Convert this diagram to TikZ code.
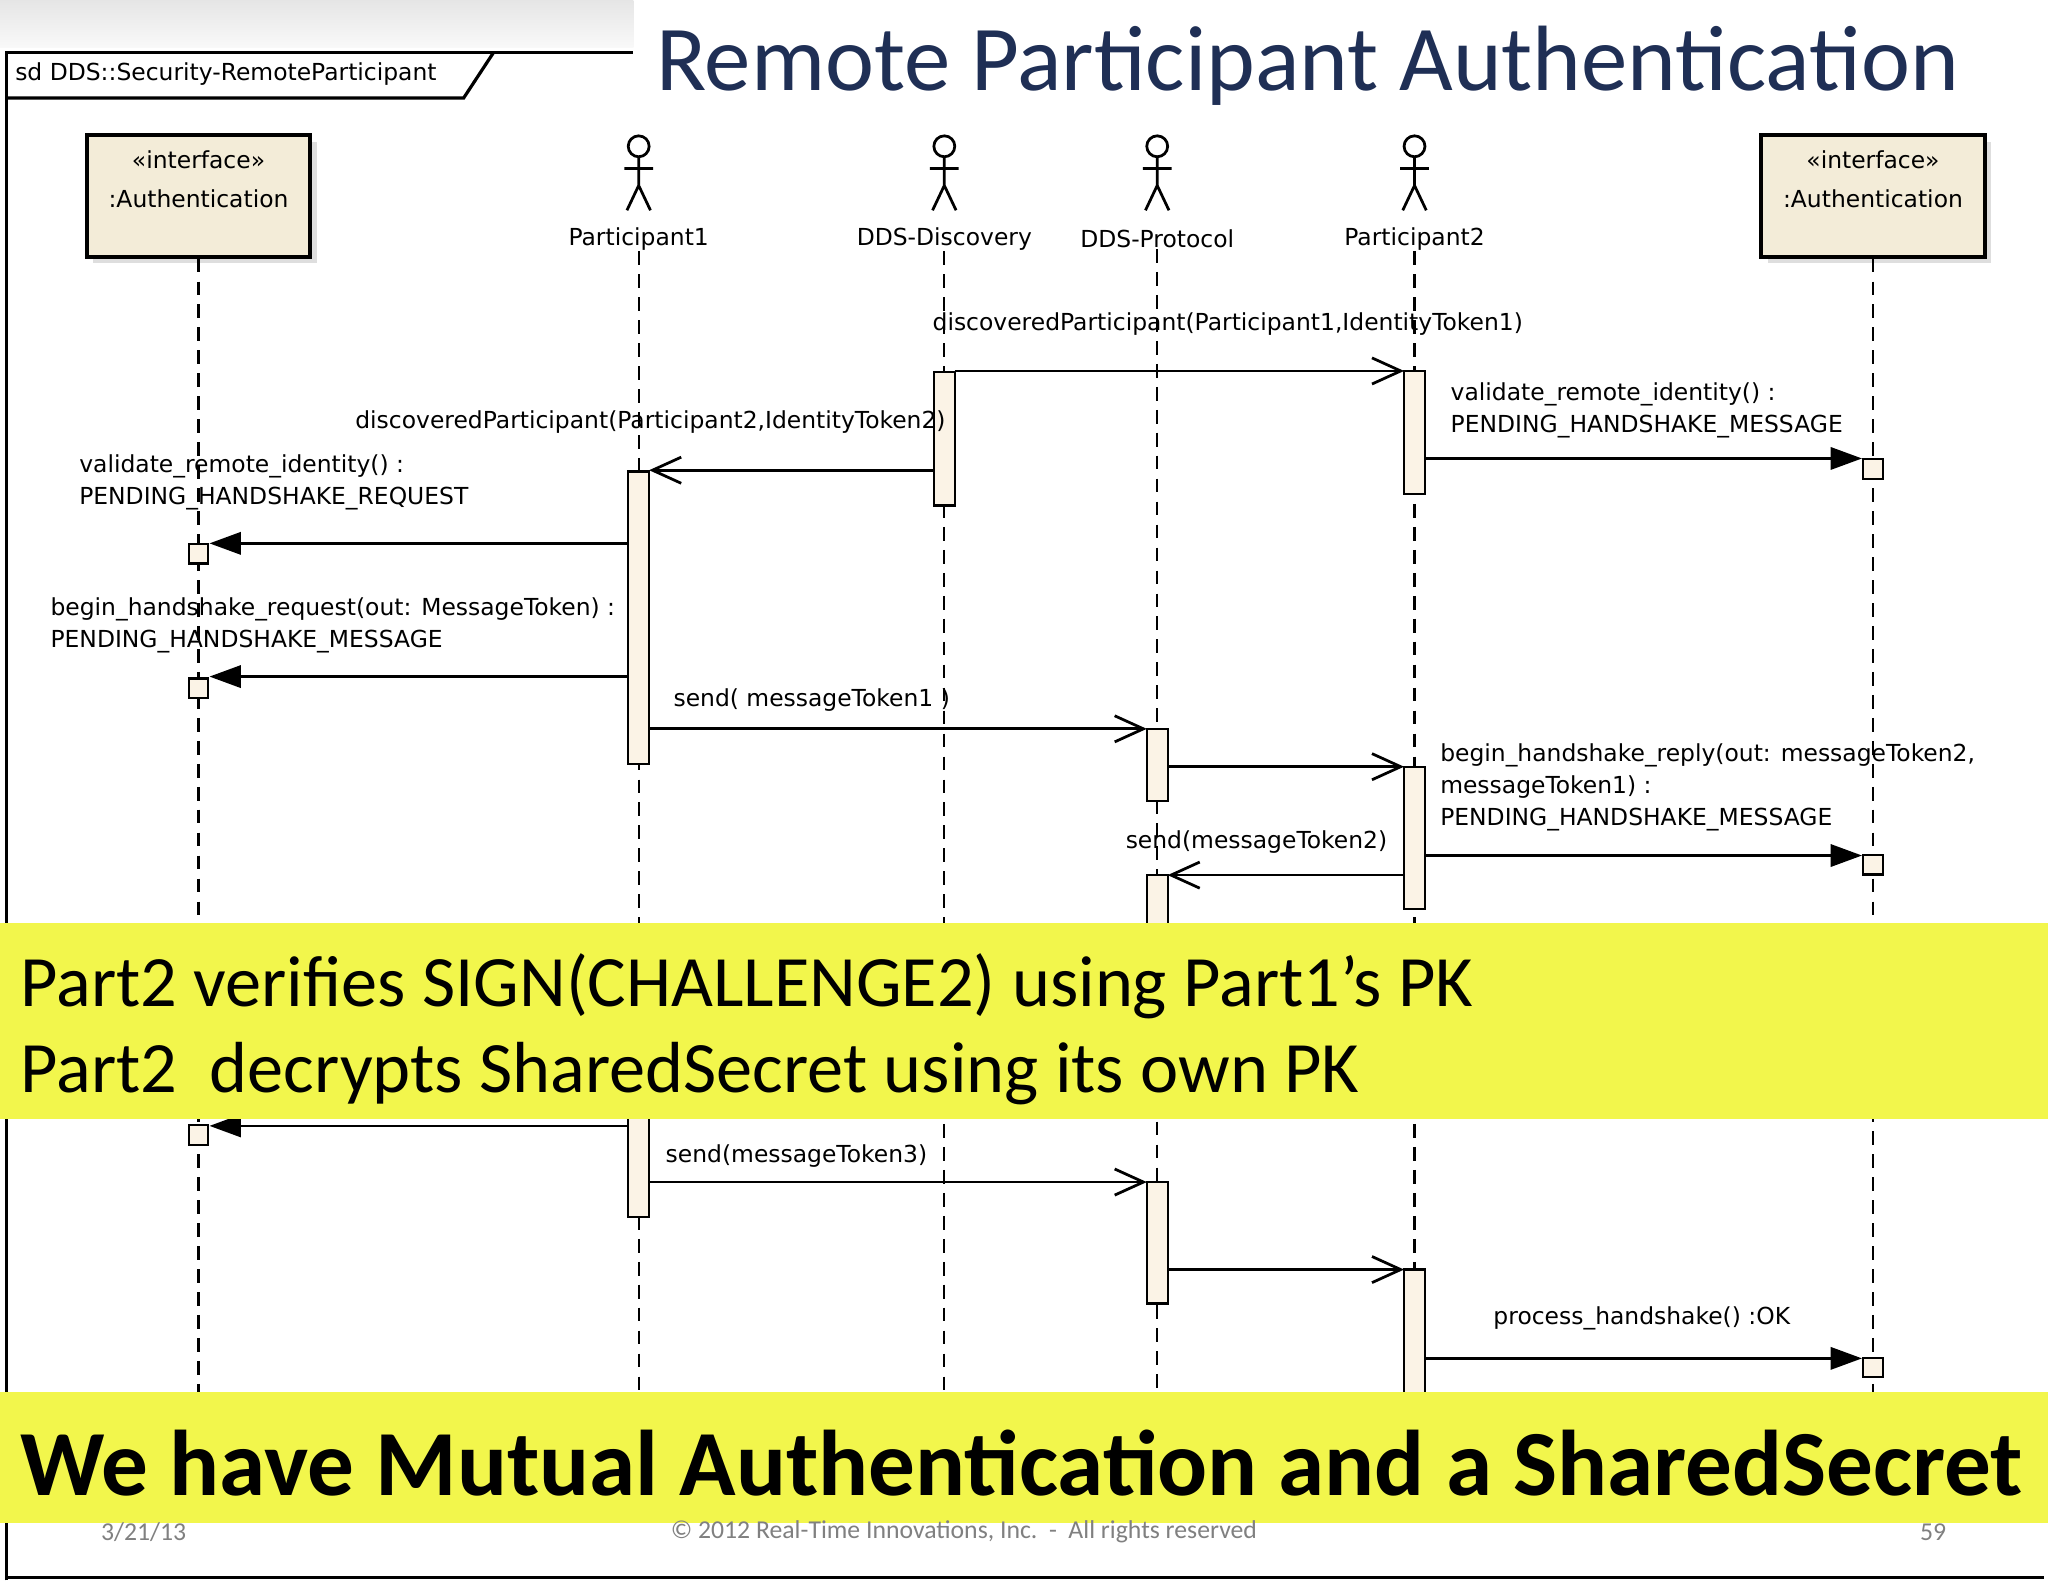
\documentclass[tikz,border=0pt]{standalone}
\usepackage{fontspec}
\setmainfont{DejaVu Sans}
\newfontfamily\carl{Carlito}
\usetikzlibrary{arrows.meta,shadows}
\definecolor{beige}{HTML}{F3ECD8}
\definecolor{act}{HTML}{FBF3E6}
\definecolor{band}{HTML}{F2F64C}
\definecolor{navy}{HTML}{1F2F55}
\begin{document}
\begin{tikzpicture}[x={(0.01cm,0)},y={(0,-0.01cm)},
 lbl/.style={font=\fontsize{5.1}{6}\selectfont,inner sep=0pt},
 mlbl/.style={lbl,anchor=west,align=left,font=\fontsize{5.1}{7}\selectfont},
 life/.style={dash pattern=on 3pt off 2pt,line width=0.45pt},
 actv/.style={draw,fill=act,line width=0.5pt},
 sq/.style={draw,fill=act,line width=0.5pt,minimum size=0.15cm,inner sep=0pt},
 sync/.style={line width=0.6pt,-{Triangle[length=0.24cm,width=0.17cm]}},
 asyn/.style={line width=0.6pt,-{Straight Barb[length=0.22cm,width=0.2cm]}},
 ibox/.style={draw,fill=beige,line width=0.8pt,minimum width=1.71cm,minimum height=0.93cm,drop shadow={shadow xshift=0.05cm,shadow yshift=-0.05cm,fill=gray!50}},
 ibt/.style={align=center,font=\fontsize{5.1}{8.5}\selectfont,inner sep=0pt},
 band/.style={fill=band}]
\useasboundingbox (0,0) rectangle (1568,1211);
\fill[white] (0,0) rectangle (1568,1211);
\shade[top color=gray!20,bottom color=gray!5] (0,0) rectangle (485,36);
% frame
\draw[line width=0.7pt] (5,1210) -- (5,40) -- (485,40);
\draw[line width=0.7pt] (5,1208) -- (1565,1208);
\draw[line width=0.7pt] (5,75) -- (355,75) -- (378,40);
\node[lbl,anchor=west] (sd) at (11,57) {sd DDS::Security-RemoteParticipant};
\node[font=\carl\fontsize{20.2}{24}\selectfont,text=navy] (title) at (1001,50) {Remote Participant Authentication};
% lifelines
\node[ibox] (a1) at (152,150) {};
\node[ibox] (a2) at (1434,150) {};
\node[ibt] (a1t) at (152,137) {«interface»\\:Authentication};
\node[ibt] (a2t) at (1434,137) {«interface»\\:Authentication};
\foreach \x/\n/\t in {489/p1/Participant1,723/dd/DDS-Discovery,886/dp/DDS-Protocol,1083/p2/Participant2}{
 \draw[line width=0.6pt] (\x,112) circle[radius=0.08cm];
 \draw[line width=0.6pt] (\x,120) -- (\x,142) (\x-11,129) -- (\x+11,129) (\x-9,161) -- (\x,142) -- (\x+9,161);
 \node[lbl] (\n) at (\x,183) {\t};
}
\coordinate (a1e) at (152,1066); \coordinate (a2e) at (1434,1066);
\coordinate (p1e) at (489,1066); \coordinate (dde) at (723,1066);
\coordinate (dpe) at (886,1066); \coordinate (p2e) at (1083,1066);
\draw[life] (a1) -- (a1e); \draw[life] (a2) -- (a2e);
\draw[life] (p1) -- (p1e); \draw[life] (dd) -- (dde);
\draw[life] (dp) -- (dpe); \draw[life] (p2) -- (p2e);
% activations
\draw[actv] (715,285) rectangle (731,387);
\draw[actv] (1075,284) rectangle (1091,378);
\draw[actv] (481,361) rectangle (497,585);
\draw[actv] (878,558) rectangle (894,613);
\draw[actv] (1075,587) rectangle (1091,696);
\draw[actv] (878,670) rectangle (894,720);
\draw[actv] (481,845) rectangle (497,932);
\draw[actv] (878,905) rectangle (894,998);
\draw[actv] (1075,972) rectangle (1091,1080);
% squares
\node[sq] (s1) at (1434,359) {};
\node[sq] (s2) at (152,424) {};
\node[sq] (s3) at (152,527) {};
\node[sq] (s4) at (1434,662) {};
\node[sq] (s5) at (152,869) {};
\node[sq] (s6) at (1434,1047) {};
% messages
\coordinate (m1a) at (731,284); \coordinate (m1b) at (1075,284);
\draw[asyn] (m1a) -- (m1b);
\node[lbl] (l1) at (940,248) {discoveredParticipant(Participant1,IdentityToken1)};
\coordinate (m2a) at (1091,351);
\draw[sync] (m2a) -- (s1.west|-m2a);
\node[mlbl] (l2) at (1110,314) {validate\_remote\_identity() :\\PENDING\_HANDSHAKE\_MESSAGE};
\coordinate (m3a) at (715,360); \coordinate (m3b) at (497,360);
\draw[asyn] (m3a) -- (m3b);
\node[lbl] (l3) at (498,323) {discoveredParticipant(Participant2,IdentityToken2)};
\coordinate (m4a) at (481,416);
\draw[sync] (m4a) -- (s2.east|-m4a);
\node[mlbl] (l4) at (60,369) {validate\_remote\_identity() :\\PENDING\_HANDSHAKE\_REQUEST};
\coordinate (m5a) at (481,518);
\draw[sync] (m5a) -- (s3.east|-m5a);
\node[mlbl] (l5) at (38,479) {begin\_handshake\_request(out: MessageToken) :\\PENDING\_HANDSHAKE\_MESSAGE};
\coordinate (m6a) at (497,558); \coordinate (m6b) at (878,558);
\draw[asyn] (m6a) -- (m6b);
\node[lbl,anchor=west] (l6) at (515,536) {send( messageToken1 )};
\coordinate (m7a) at (894,587); \coordinate (m7b) at (1075,587);
\draw[asyn] (m7a) -- (m7b);
\coordinate (m8a) at (1091,655);
\draw[sync] (m8a) -- (s4.west|-m8a);
\node[mlbl] (l8) at (1102,603) {begin\_handshake\_reply(out: messageToken2,\\messageToken1) :\\PENDING\_HANDSHAKE\_MESSAGE};
\coordinate (m9a) at (1075,670); \coordinate (m9b) at (894,670);
\draw[asyn] (m9a) -- (m9b);
\node[lbl] (l9) at (962,645) {send(messageToken2)};
\coordinate (m10a) at (481,862);
\draw[sync] (m10a) -- (s5.east|-m10a);
\coordinate (m11a) at (497,905); \coordinate (m11b) at (878,905);
\draw[asyn] (m11a) -- (m11b);
\node[lbl,anchor=west] (l11) at (509,885) {send(messageToken3)};
\coordinate (m12a) at (894,972); \coordinate (m12b) at (1075,972);
\draw[asyn] (m12a) -- (m12b);
\coordinate (m13a) at (1091,1040);
\draw[sync] (m13a) -- (s6.west|-m13a);
\node[lbl] (l13) at (1257,1009) {process\_handshake() :OK};
% bands
\fill[band] (0,707) rectangle (1568,857);
\node[anchor=west,inner sep=0pt,font=\carl\fontsize{15.75}{18}\selectfont] (b1) at (15,755) {Part2 verifies SIGN(CHALLENGE2) using Part1’s PK};
\node[anchor=west,inner sep=0pt,font=\carl\fontsize{15.75}{18}\selectfont] (b2) at (15,822) {Part2\ \ decrypts SharedSecret using its own PK};
\fill[band] (0,1066) rectangle (1568,1166);
\node[anchor=west,inner sep=0pt,font=\carl\bfseries\fontsize{20.3}{24}\selectfont] (b3) at (15,1120) {We have Mutual Authentication and a SharedSecret};
% footer
\node[text=gray,font=\carl\fontsize{5.6}{7}\selectfont] (f1) at (110,1173) {3/21/13};
\node[text=gray,font=\carl\fontsize{5.6}{7}\selectfont] (f2) at (738,1173) {© 2012 Real-Time Innovations, Inc.\ \ -\ \ All rights reserved};
\node[text=gray,font=\carl\fontsize{5.6}{7}\selectfont] (f3) at (1480,1173) {59};
\end{tikzpicture}
\end{document}
